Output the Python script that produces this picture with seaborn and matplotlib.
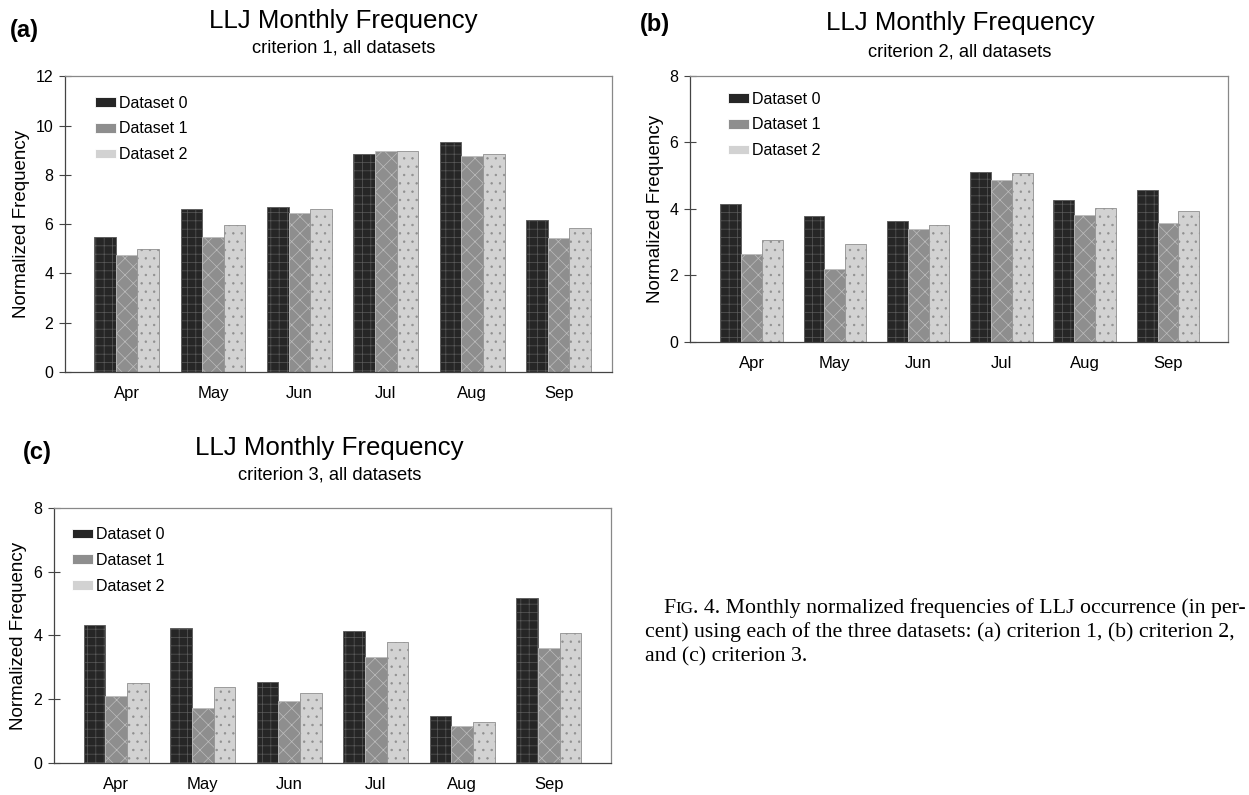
import numpy as np
import pandas as pd
import matplotlib
matplotlib.use("Agg")
import matplotlib.pyplot as plt
import seaborn as sns

months = ["Apr", "May", "Jun", "Jul", "Aug", "Sep"]
datasets = ["Dataset 0", "Dataset 1", "Dataset 2"]

# criterion 1
c1_d0 = [5.48, 6.63, 6.71, 8.85, 9.32, 6.18]
c1_d1 = [4.76, 5.48, 6.47, 8.98, 8.75, 5.45]
c1_d2 = [4.99, 5.98, 6.62, 8.96, 8.86, 5.86]
# criterion 2
c2_d0 = [4.15, 3.79, 3.64, 5.10, 4.28, 4.56]
c2_d1 = [2.63, 2.18, 3.38, 4.87, 3.81, 3.57]
c2_d2 = [3.06, 2.93, 3.52, 5.07, 4.02, 3.94]
# criterion 3
c3_d0 = [4.32, 4.23, 2.53, 4.14, 1.46, 5.18]
c3_d1 = [2.11, 1.72, 1.93, 3.33, 1.15, 3.60]
c3_d2 = [2.50, 2.38, 2.21, 3.79, 1.27, 4.09]

yticks_a = [0, 2, 4, 6, 8, 10, 12]
yticks_bc = [0, 2, 4, 6, 8]

def make_df(d0, d1, d2):
    rows = []
    for name, vals in zip(datasets, [d0, d1, d2]):
        for m, v in zip(months, vals):
            rows.append({"Month": m, "Dataset": name, "Freq": v})
    return pd.DataFrame(rows)

sns.set_theme(style="white")
plt.rcParams["font.family"] = ["Liberation Sans", "DejaVu Sans"]
plt.rcParams["text.color"] = "black"
plt.rcParams["axes.labelcolor"] = "black"
plt.rcParams["xtick.color"] = "black"
plt.rcParams["ytick.color"] = "black"
plt.rcParams["hatch.linewidth"] = 0.5

palette = ["#262626", "#8e8e8e", "#d2d2d2"]
hatches = ["++", "xx", ".."]
edgecols = ["#5a5a5a", "#bdbdbd", "#8f8f8f"]

fig = plt.figure(figsize=(12.49, 7.95), dpi=100)

panels = [
    dict(rect=[0.052, 0.532, 0.438, 0.372], data=(c1_d0, c1_d1, c1_d2), ymax=12, yticks=yticks_a,
         xlim=(-0.714, 5.617), letter="(a)", lx=0.008, ly=0.962, tx=0.275, ty=0.973, sy=0.940,
         sub="criterion 1, all datasets", ylx=-0.064, leg=(0.055, 0.935)),
    dict(rect=[0.5524, 0.570, 0.4307, 0.3346], data=(c2_d0, c2_d1, c2_d2), ymax=8, yticks=yticks_bc,
         xlim=(-0.74, 5.72), letter="(b)", lx=0.512, ly=0.969, tx=0.7686, ty=0.971, sy=0.934,
         sub="criterion 2, all datasets", ylx=-0.048, leg=(0.071, 0.941)),
    dict(rect=[0.0432, 0.0403, 0.446, 0.3208], data=(c3_d0, c3_d1, c3_d2), ymax=8, yticks=yticks_bc,
         xlim=(-0.72, 5.72), letter="(c)", lx=0.018, ly=0.431, tx=0.264, ty=0.437, sy=0.402,
         sub="criterion 3, all datasets", ylx=-0.048, leg=(0.032, 0.925)),
]

for p in panels:
    ax = fig.add_axes(p["rect"])
    df = make_df(*p["data"])
    sns.barplot(data=df, x="Month", y="Freq", hue="Dataset", palette=palette,
                width=0.75, ax=ax, linewidth=0.6, saturation=1)
    for i, cont in enumerate(ax.containers):
        for bar in cont:
            bar.set_hatch(hatches[i])
            bar.set_edgecolor(edgecols[i])
    ax.set_ylim(0, p["ymax"])
    ax.set_yticks(p["yticks"])
    ax.set_xlim(*p["xlim"])
    ax.set_xlabel("")
    ax.set_ylabel("Normalized Frequency", fontsize=13.5)
    ax.yaxis.set_label_coords(p["ylx"], 0.5)
    ax.tick_params(axis="y", left=True, direction="inout", length=9, width=0.8,
                   color="#444444", labelsize=11.5, pad=4)
    ax.tick_params(axis="x", bottom=False, labelsize=12, pad=4)
    for s in ax.spines.values():
        s.set_visible(True)
        s.set_color("#888888")
        s.set_linewidth(0.9)
    ax.spines["left"].set_color("#444444")
    ax.spines["bottom"].set_color("#444444")
    ax.legend(loc="upper left", frameon=False, fontsize=11.5, handlelength=1.3,
              handleheight=0.55, handletextpad=0.2, labelspacing=0.68,
              borderpad=0, borderaxespad=0, bbox_to_anchor=p["leg"])
    fig.text(p["lx"], p["ly"], p["letter"], fontsize=17, fontweight="bold", va="center", ha="left")
    fig.text(p["tx"], p["ty"], "LLJ Monthly Frequency", fontsize=18.6, va="center", ha="center")
    fig.text(p["tx"], p["sy"], p["sub"], fontsize=13.2, va="center", ha="center")

# caption (serif, small caps "FIG.")
cap_font = ["Liberation Serif", "DejaVu Serif"]
cap_size = 15.7
renderer = fig.canvas.get_renderer()
W = fig.bbox.width

def put(x, y, s, size):
    t = fig.text(x, y, s, fontsize=size, family=cap_font, va="baseline", ha="left")
    bb = t.get_window_extent(renderer=renderer)
    return bb.x1 / W

x = 0.531
y1 = 0.229
x = put(x, y1, "F", cap_size)
x = put(x, y1, "IG", cap_size * 0.78)
put(x, y1, ". 4. Monthly normalized frequencies of LLJ occurrence (in per-", cap_size)
put(0.5165, y1 - 0.0305, "cent) using each of the three datasets: (a) criterion 1, (b) criterion 2,", cap_size)
put(0.5165, y1 - 0.061, "and (c) criterion 3.", cap_size)

fig.savefig("out.png", dpi=100)
